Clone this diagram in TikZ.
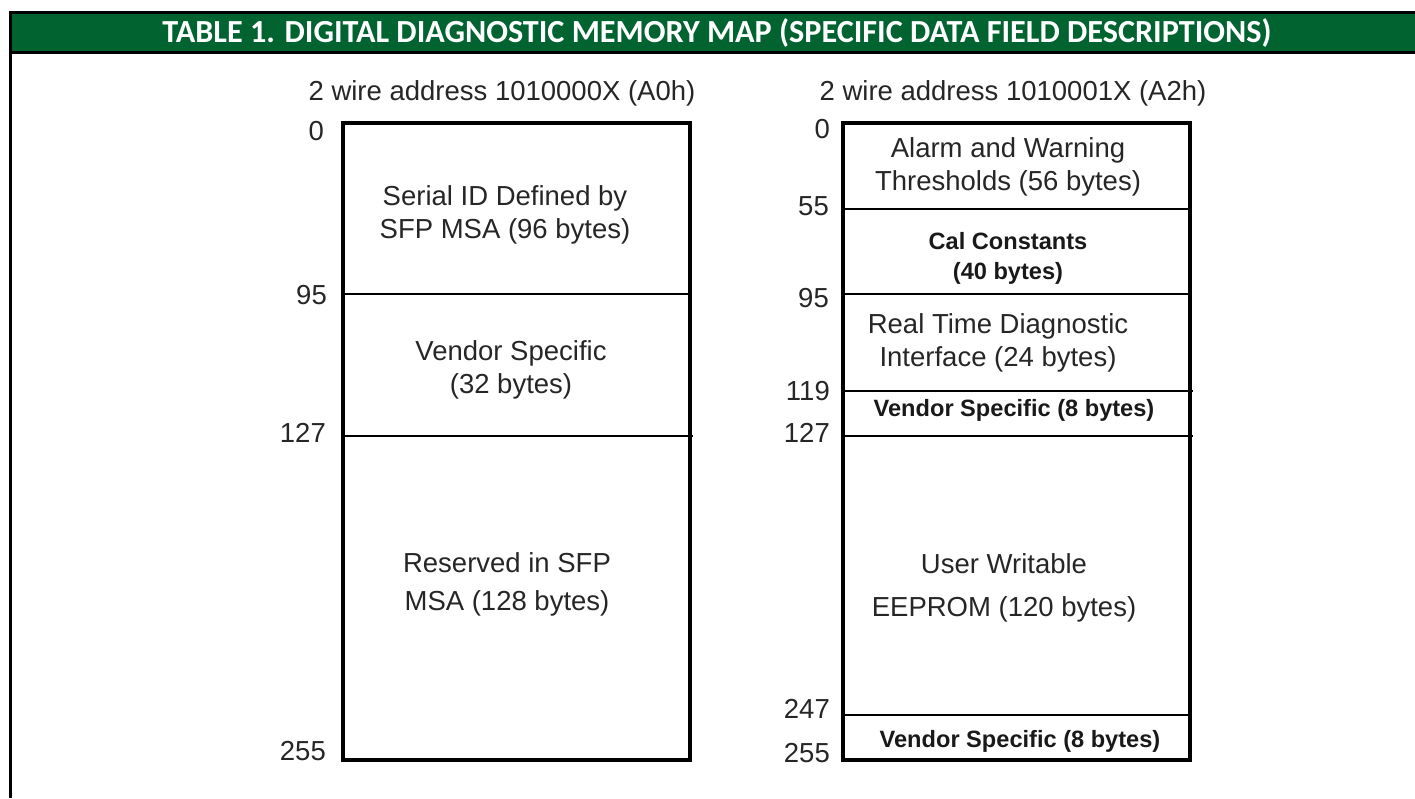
\documentclass[tikz,border=0pt]{standalone}
\usepackage{fontspec}
\setmainfont{Liberation Sans}
\newfontfamily\hdrfont{Carlito}
\definecolor{hdrgreen}{RGB}{0,99,48}
\tikzset{
  frame/.style={draw=black, line width=3.5pt},
  sep/.style={draw=black, line width=2pt},
  lbl/.style={font=\fontsize{27.5}{33}\selectfont, text=black!85, inner sep=0pt, align=center},
  blbl/.style={font=\fontsize{23.6}{30}\selectfont\bfseries, text=black!90, inner sep=0pt, align=center},
  num/.style={font=\fontsize{27.5}{33}\selectfont, text=black!85, inner sep=0pt, anchor=east},
  region/.style={inner sep=0pt, outer sep=0pt, minimum width=347pt},
}
\begin{document}
\begin{tikzpicture}[x=1pt,y=-1pt]
\useasboundingbox (0,0) rectangle (1415,798);
% header bar
\fill[hdrgreen] (9,12) rectangle (1415,52);
\draw[line width=3pt] (9,12) -- (1415,12);
\draw[line width=3pt] (9,52) -- (1415,52);
\draw[line width=3pt] (10,11) -- (10,798);
\node[font=\hdrfont\bfseries\fontsize{32.2}{36}\selectfont, text=white, inner sep=0pt] (title) at (717,33) {TABLE 1. DIGITAL DIAGNOSTIC MEMORY MAP (SPECIFIC DATA FIELD DESCRIPTIONS)};

% left map
\node[lbl] (ltitle) at (502,93) {2 wire address 1010000X (A0h)};
\node[region, minimum height=637pt] (lbox) at (516.5,441.5) {};
\coordinate (l95w) at (343,294); \coordinate (l95e) at (690,294);
\coordinate (l127w) at (343,436); \coordinate (l127e) at (693,436);
\draw[sep] (l95w) -- (l95e);
\draw[sep] (l127w) -- (l127e);
\draw[frame] (lbox.north west) rectangle (lbox.south east);
\node[num] (ln0) at (324,131) {0};
\node[num] (ln95) at (327,295) {95};
\node[num] (ln127) at (326,433) {127};
\node[num] (ln255) at (326,751) {255};
\node[lbl] (lserial) at (505,215) {Serial ID Defined by\\SFP MSA (96 bytes)};
\node[lbl] (lvendor) at (511,370) {Vendor Specific\\(32 bytes)};
\node[lbl] (lreserved) at (507,584) {Reserved in SFP\\[5pt]MSA (128 bytes)};

% right map
\node[lbl] (rtitle) at (1013,93) {2 wire address 1010001X (A2h)};
\node[region, minimum height=637pt] (rbox) at (1016.5,441.5) {};
\coordinate (r55w) at (843,209); \coordinate (r55e) at (1190,209);
\coordinate (r95w) at (843,294); \coordinate (r95e) at (1190,294);
\coordinate (r119w) at (845,391); \coordinate (r119e) at (1193,391);
\coordinate (r127w) at (845,436); \coordinate (r127e) at (1193,436);
\coordinate (r247w) at (843,715); \coordinate (r247e) at (1190,715);
\draw[sep] (r55w) -- (r55e);
\draw[sep] (r95w) -- (r95e);
\draw[sep] (r119w) -- (r119e);
\draw[sep] (r127w) -- (r127e);
\draw[sep] (r247w) -- (r247e);
\draw[frame] (rbox.north west) rectangle (rbox.south east);
\node[num] (rn0) at (830,129) {0};
\node[num] (rn55) at (829,206) {55};
\node[num] (rn95) at (829,298) {95};
\node[num] (rn119) at (830,391) {119};
\node[num] (rn127) at (830,433) {127};
\node[num] (rn247) at (830,709) {247};
\node[num] (rn255) at (830,753) {255};
\node[lbl] (ralarm) at (1008,167) {Alarm and Warning\\Thresholds (56 bytes)};
\node[blbl] (rcal) at (1008,258) {Cal Constants\\(40 bytes)};
\node[lbl] (rreal) at (998,343) {Real Time Diagnostic\\Interface (24 bytes)};
\node[blbl] (rvend1) at (1014,410) {Vendor Specific (8 bytes)};
\node[lbl] (ruser) at (1004,588) {User Writable\\[10pt]EEPROM (120 bytes)};
\node[blbl] (rvend2) at (1020,741) {Vendor Specific (8 bytes)};
\end{tikzpicture}
\end{document}
